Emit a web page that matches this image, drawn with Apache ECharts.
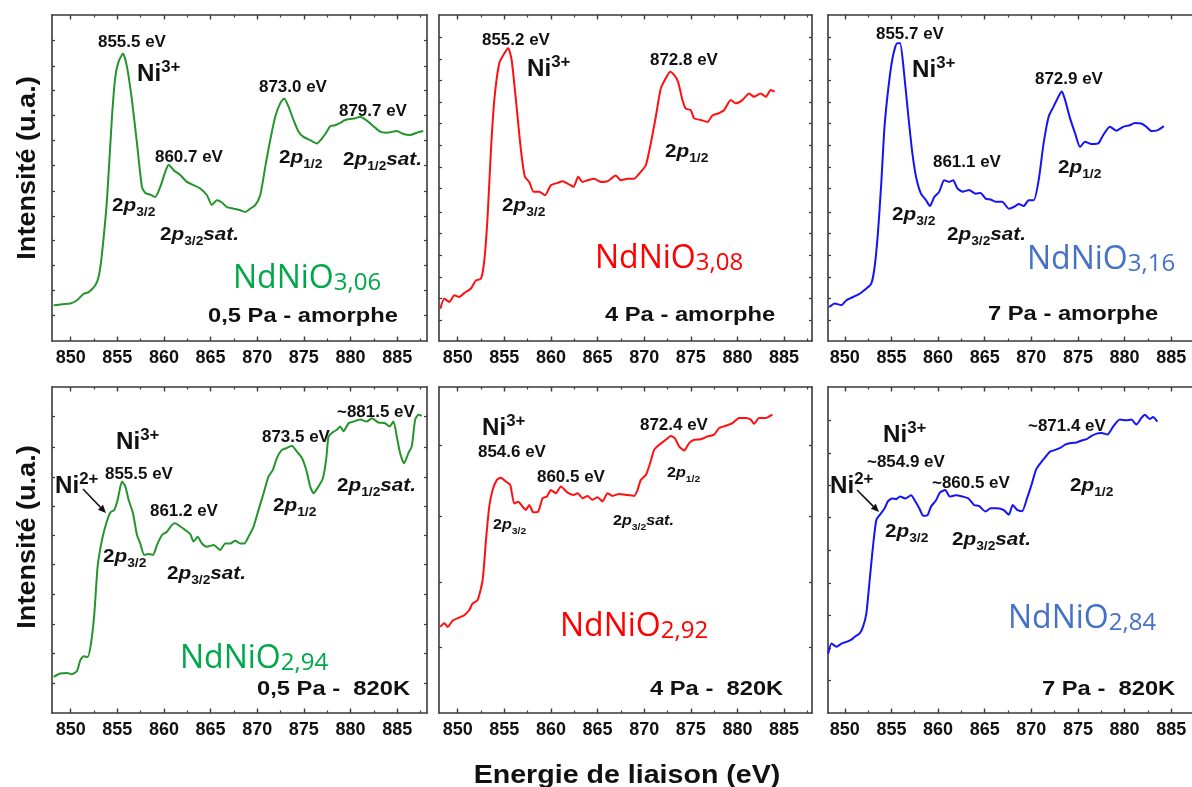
<!DOCTYPE html>
<html><head><meta charset="utf-8">
<script src="https://cdn.jsdelivr.net/npm/echarts@6/dist/echarts.min.js"></script>
<style>html,body{margin:0;padding:0;background:#fff}#c{width:1192px;height:787px}</style>
</head><body><div id="c"></div>
<script>
// ---------- data (intensity in % of panel height) ----------
const xTicks = [850, 855, 860, 865, 870, 875, 880, 885];
const xMinorTicks = [852.5, 857.5, 862.5, 867.5, 872.5, 877.5, 882.5, 887.5];

const e1 = [848.18,849.07,849.96,850.68,851.39,851.93,852.64,853.0,853.36,853.89,854.43,854.79,855.14,855.61,856.04,856.57,857.11,857.64,858.0,858.54,859.07,859.61,860.14,860.5,861.04,861.75,862.46,863.18,863.89,864.61,865.14,865.68,866.21,866.75,867.46,868.18,868.71,869.25,869.79,870.32,870.86,871.39,871.93,872.46,872.89,873.36,873.89,874.43,874.96,875.68,876.39,876.93,877.46,877.82,878.36,878.89,879.43,879.96,880.5,881.04,881.75,882.46,883.18,883.89,884.96,885.68,886.39,887.11,887.8];
const i1 = [10.95,11.3,11.5,12.5,14.5,15.0,17.1,19.7,26.8,43.2,68.8,81.1,85.7,88.2,84.1,73.9,60.6,47.3,45.4,44.9,44.2,47.3,51.9,54.1,52.4,50.9,48.8,47.8,46.8,44.7,41.7,43.2,42.5,41.1,40.6,40.1,39.6,40.6,41.7,44.7,53.4,61.6,68.8,72.9,74.4,71.9,67.8,64.2,62.6,61.6,60.6,62.1,64.2,65.9,66.2,66.9,67.8,68.1,68.3,68.8,67.6,65.9,64.2,63.9,64.4,63.5,63.2,63.9,64.4];

const e2 = [848.14,848.57,849.11,849.64,850.18,850.71,851.43,851.96,852.5,852.86,853.21,853.57,853.93,854.46,855.0,855.43,855.79,856.25,856.79,857.21,857.68,858.14,858.75,859.36,860.0,860.71,861.25,861.79,862.43,862.93,863.39,863.93,864.64,865.36,866.07,866.96,867.5,868.21,868.93,869.64,870.18,870.71,871.25,871.79,872.32,872.79,873.21,873.64,874.11,874.46,875.0,875.36,876.07,876.79,877.32,877.86,878.57,879.29,879.82,880.54,881.25,881.79,882.5,883.04,883.57,884.0];
const i2 = [9.9,13.0,12.0,14.0,13.5,14.7,16.1,18.6,19.1,24.7,38.1,58.5,73.9,85.2,88.2,89.8,86.2,73.9,58.5,50.4,48.8,45.8,45.8,44.7,47.8,48.5,49.0,48.3,47.3,50.4,48.8,49.3,49.8,48.8,49.0,50.8,49.3,49.8,49.8,51.9,53.9,60.6,68.8,77.5,80.6,82.6,81.6,79.5,73.9,71.3,70.8,68.3,67.8,67.2,69.2,69.7,70.8,73.9,72.9,73.9,75.9,74.9,75.9,74.9,77.0,76.5];

const e3 = [848.33,848.93,849.64,850.18,850.89,851.6,852.31,852.84,853.2,853.55,853.91,854.26,854.73,855.15,855.61,855.93,856.29,856.75,857.21,857.64,858.17,858.71,859.13,859.6,860.13,860.66,861.19,861.62,862.08,862.62,863.33,864.04,864.57,865.1,865.64,866.17,866.88,867.59,868.12,868.66,869.19,869.72,870.26,870.79,871.32,871.86,872.39,872.92,873.28,873.63,874.16,874.7,875.23,875.76,876.47,877.19,877.72,878.43,879.14,879.85,880.56,881.09,881.8,882.34,882.87,883.58,884.22];
const i3 = [10.4,11.5,11.0,12.5,13.5,14.5,16.1,17.6,22.7,33.0,48.3,65.7,79.0,87.2,91.3,91.3,84.1,70.8,58.5,50.4,45.2,43.2,41.4,44.2,45.8,49.3,48.8,49.3,46.8,45.8,46.3,45.2,45.4,43.7,43.4,42.7,42.7,40.6,41.1,42.0,41.4,43.2,43.2,49.3,60.6,68.8,71.9,75.0,76.5,73.9,68.3,63.7,59.5,61.1,60.4,60.6,63.2,65.7,64.5,65.7,66.2,66.9,66.7,65.7,64.4,64.7,65.9];

const e4 = [848.18,848.89,849.61,850.14,850.68,851.04,851.39,851.82,852.18,852.54,852.89,853.36,853.82,854.25,854.68,855.04,855.5,855.86,856.21,856.68,857.11,857.46,857.89,858.36,858.82,859.25,859.79,860.32,860.86,861.21,861.75,862.29,862.82,863.18,863.61,864.07,864.61,865.32,866.04,866.57,867.11,867.64,868.18,868.61,869.07,869.61,870.14,870.68,871.21,871.68,872.11,872.64,873.18,873.71,874.25,874.79,875.25,875.68,876.04,876.57,877.04,877.39,877.64,878.0,878.54,878.89,879.25,879.79,880.32,881.04,881.75,882.29,883.0,883.71,884.18,884.61,884.96,885.32,885.75,886.21,886.57,886.93,887.29,887.64];
const i4 = [11.1,12.1,12.3,11.9,12.9,16.2,17.4,17.2,21.3,30.5,44.9,53.1,58.2,61.5,62.3,65.4,71.0,69.5,65.4,61.3,54.6,52.0,48.5,48.8,48.5,51.5,54.6,55.6,57.7,58.2,57.2,56.1,54.9,52.6,54.1,52.0,51.0,51.5,50.0,52.0,52.0,52.8,52.0,52.0,54.1,57.2,62.3,67.4,72.5,74.6,78.2,80.7,81.3,82.0,80.2,78.2,74.6,69.5,67.4,69.5,72.0,77.7,84.8,85.9,86.9,87.9,86.4,88.9,89.4,90.0,89.4,90.4,89.1,88.9,87.9,89.4,84.8,79.7,76.6,79.7,81.8,90.0,91.5,91.2];

const e5 = [848.14,848.57,848.93,849.46,850.18,850.71,851.25,851.61,852.14,852.68,853.04,853.39,853.75,854.21,854.64,855.18,855.64,856.07,856.5,856.96,857.32,857.68,858.11,858.64,859.11,859.57,860.0,860.54,861.07,861.79,862.43,862.86,863.39,863.93,864.46,865.0,865.54,866.07,866.61,867.32,868.04,868.93,869.29,869.64,870.18,870.64,871.07,871.61,872.32,872.86,873.29,873.75,874.29,874.82,875.36,876.07,876.79,877.5,878.04,878.75,879.46,880.18,880.89,881.43,881.79,882.32,883.04,883.75];
const i5 = [26.4,27.5,26.4,28.3,29.3,30.0,31.6,33.6,34.6,40.8,53.1,63.3,68.4,71.5,72.2,71.0,70.0,64.3,64.8,63.3,62.3,63.8,61.6,61.8,65.9,66.4,68.4,67.4,69.5,67.6,66.9,67.4,65.9,66.6,65.4,66.2,64.9,67.4,66.6,67.2,66.9,66.6,68.4,71.5,73.0,76.6,80.7,82.3,83.8,85.0,84.3,81.8,80.5,82.8,83.8,84.0,84.8,85.4,87.4,88.1,88.9,90.5,90.5,90.0,88.7,90.5,90.5,91.5];

const e6 = [848.22,848.58,849.11,849.64,850.18,850.71,851.07,851.6,851.95,852.31,852.67,853.02,853.38,853.73,854.26,854.62,855.08,855.51,855.93,856.5,857.1,857.57,857.99,858.42,858.88,859.24,859.77,860.2,860.77,861.27,861.9,862.62,863.26,863.86,864.39,865.1,865.64,866.35,867.06,867.59,868.02,868.48,869.01,869.55,870.08,870.5,870.97,871.5,872.03,872.57,873.1,873.63,874.27,874.87,875.41,875.94,876.47,877.01,877.54,878.18,878.79,879.5,880.21,880.74,881.27,881.81,882.17,882.7,883.06,883.51];
const i6 = [18.2,21.3,20.3,21.3,21.8,22.5,23.4,24.4,26.4,30.5,40.8,51.0,59.2,60.7,62.7,64.9,65.8,65.6,66.4,65.8,66.8,64.9,62.8,60.5,60.7,63.3,65.2,67.6,68.4,66.4,66.8,66.4,65.8,63.8,63.5,61.8,62.8,62.8,62.2,60.8,63.8,62.3,61.9,65.9,70.5,74.6,76.6,78.5,80.2,80.7,81.3,82.3,82.8,83.0,83.6,84.0,85.0,85.7,85.9,85.4,87.9,90.0,89.8,90.0,88.5,90.5,91.5,90.2,90.8,89.4];

// y-axis tick positions (arbitrary units) seen on the frames
const yTicks1 = [8.0,15.6,23.3,31.0,38.3,46.0,54.0,61.7,69.3,77.0,84.4,92.3];
const yTicks2 = [6.4,13.2,19.6,26.4,33.1,39.6,46.9,53.4,60.1,66.9,73.3,80.1,86.5,93.3];
const yTicks4 = [9.2,18.4,27.3,36.5,45.7,54.6,63.5,72.4,81.6,91.1];
const yTicks5 = [20.2,40.2,60.4,82.2];
const yTicks6 = [10.1,19.9,30.1,39.9,49.9,60.1,69.9,79.8,89.9];

// ---------- styling / layout ----------
const GREEN = '#23952b', RED = '#ff1010', BLUE = '#1414f5';
const GREEN_T = '#00a84a', RED_T = '#ff0000', BLUE_T = '#4472c4';
const F = "'Liberation Sans', Arial, Helvetica, sans-serif";
const AX = '#3a3a3a';

const panels = [
  {e:e1, v:i1, c:GREEN, yt:yTicks1, box:[52,15,375,326],  xr:[848.0,888.2]},
  {e:e2, v:i2, c:RED,   yt:yTicks2, box:[439,15,373,326], xr:[848.0,888.0]},
  {e:e3, v:i3, c:BLUE,  yt:yTicks2, box:[828,15,373,326], xr:[848.2,888.2]},
  {e:e4, v:i4, c:GREEN, yt:yTicks4, box:[52,387,375,326], xr:[848.0,888.2]},
  {e:e5, v:i5, c:RED,   yt:yTicks5, box:[439,387,373,326],xr:[848.0,888.0]},
  {e:e6, v:i6, c:BLUE,  yt:yTicks6, box:[828,387,373,326],xr:[848.2,888.2]}
];

const grid = [], xAxis = [], yAxis = [], series = [];
panels.forEach((p, k) => {
  grid.push({left:p.box[0], top:p.box[1], width:p.box[2], height:p.box[3], containLabel:false, outerBoundsMode:'none'});
  const base = {gridIndex:k, type:'value', min:p.xr[0], max:p.xr[1], splitLine:{show:false}};
  xAxis.push(Object.assign({}, base, {position:'bottom',
    axisLine:{show:true,onZero:false,lineStyle:{color:AX,width:1.6}},
    axisTick:{show:true,inside:true,length:4.5,customValues:xTicks,lineStyle:{color:AX,width:1.4}},
    axisLabel:{show:true,customValues:xTicks,margin:8,color:'#111',fontFamily:F,fontSize:18,fontWeight:'bold'}}));
  xAxis.push(Object.assign({}, base, {position:'bottom',
    axisLine:{show:false,onZero:false},
    axisTick:{show:true,inside:true,length:2.5,customValues:xMinorTicks,lineStyle:{color:AX,width:1.2}},
    axisLabel:{show:false}}));
  xAxis.push(Object.assign({}, base, {position:'top',
    axisLine:{show:true,onZero:false,lineStyle:{color:AX,width:1.6}},
    axisTick:{show:true,inside:true,length:4.5,customValues:xTicks,lineStyle:{color:AX,width:1.4}},
    axisLabel:{show:false}}));
  xAxis.push(Object.assign({}, base, {position:'top',
    axisLine:{show:false,onZero:false},
    axisTick:{show:true,inside:true,length:2.5,customValues:xMinorTicks,lineStyle:{color:AX,width:1.2}},
    axisLabel:{show:false}}));
  ['left','right'].forEach(pos => {
    yAxis.push({gridIndex:k, type:'value', min:0, max:100, position:pos, splitLine:{show:false},
      axisLine:{show:true,onZero:false,lineStyle:{color:AX,width:1.6}},
      axisTick:{show:true,inside:true,length:3,customValues:p.yt,lineStyle:{color:AX,width:1.2}},
      axisLabel:{show:false}});
  });
  series.push({type:'line', xAxisIndex:4*k, yAxisIndex:2*k, data:p.e.map((x,j)=>[x,p.v[j]]),
    showSymbol:false, symbol:'none', smooth:0.2, silent:true,
    lineStyle:{color:p.c, width:2}});
});

// ---------- annotations ----------
const G = [];
function plain(x, y, s, size, sx) {
  G.push({type:'text', x:x, y:y+1, scaleX:sx, z:100,
    style:{text:s, fontFamily:F, fontSize:size, fontWeight:'bold', fill:'#111', align:'left', verticalAlign:'middle'}});
}
function orb(x, y, sub, tail, big, small) {
  const txt = '{n|2}{p|p}{s|' + sub + '}' + (tail ? '{p|' + tail + '}' : '');
  G.push({type:'text', x:x, y:y+1, scaleX:1.15, z:100,
    style:{text:txt, align:'left', verticalAlign:'middle', fill:'#111',
      rich:{
        n:{fontFamily:F, fontSize:big, fontWeight:'bold', fill:'#111', lineHeight:big+4, verticalAlign:'top'},
        p:{fontFamily:F, fontSize:big, fontWeight:'bold', fontStyle:'italic', fill:'#111', lineHeight:big+4, verticalAlign:'top'},
        s:{fontFamily:F, fontSize:small, fontWeight:'bold', fill:'#111', lineHeight:Math.round(small*0.5), verticalAlign:'bottom'}
      }}});
}
function ni(x, y, sup) {
  G.push({type:'text', x:x, y:y+1, scaleX:1.05, z:100,
    style:{text:'{m|Ni}{u|' + sup + '}', align:'left', verticalAlign:'middle', fill:'#111',
      rich:{
        m:{fontFamily:F, fontSize:23, fontWeight:'bold', fill:'#111', lineHeight:27, verticalAlign:'bottom'},
        u:{fontFamily:F, fontSize:16, fontWeight:'bold', fill:'#111', lineHeight:12, verticalAlign:'top'}
      }}});
}
function nd(x, y, sub, color) {
  G.push({type:'text', x:x, y:y+2, z:100,
    style:{text:'{a|NdNiO}{b|' + sub + '}', align:'left', verticalAlign:'middle', fill:color,
      rich:{
        a:{fontFamily:"'Open Sans', 'Noto Sans', sans-serif", fontSize:32, fill:color, lineHeight:36, verticalAlign:'bottom'},
        b:{fontFamily:"'Open Sans', 'Noto Sans', sans-serif", fontSize:24, fill:color, lineHeight:31, verticalAlign:'bottom'}
      }}});
}
function arrow(x1, y1, x2, y2) {
  const dx = x2 - x1, dy = y2 - y1, L = Math.hypot(dx, dy), ux = dx / L, uy = dy / L;
  const bx = x2 - ux * 8, by = y2 - uy * 8;
  G.push({type:'line', z:100, shape:{x1:x1, y1:y1, x2:bx, y2:by}, style:{stroke:'#111', lineWidth:1.6}});
  G.push({type:'polygon', z:100, shape:{points:[[x2,y2],[bx - uy*3.5, by + ux*3.5],[bx + uy*3.5, by - ux*3.5]]}, style:{fill:'#111'}});
}

// peak energies
[[98,42,'855.5 eV'],[155,157,'860.7 eV'],[259,87,'873.0 eV'],[339,111,'879.7 eV'],
 [482,40,'855.2 eV'],[650,60,'872.8 eV'],
 [876,34,'855.7 eV'],[933,162,'861.1 eV'],[1035,79,'872.9 eV'],
 [105,474,'855.5 eV'],[150,511,'861.2 eV'],[262,437,'873.5 eV'],[337,412,'~881.5 eV'],
 [478,452,'854.6 eV'],[537,477,'860.5 eV'],[640,425,'872.4 eV'],
 [867,462,'~854.9 eV'],[932,483,'~860.5 eV'],[1028,426,'~871.4 eV']
].forEach(a => plain(a[0], a[1], a[2], 16, 1.06));

// Ni labels
[[137,72,'3+'],[527,67,'3+'],[912,68,'3+'],[116,440,'3+'],[482,426,'3+'],[883,433,'3+'],
 [55,484,'2+'],[830,484,'2+']].forEach(a => ni(a[0], a[1], a[2]));

// orbital labels
[[112,207,'3/2',''],[160,236,'3/2','sat.'],[279,159,'1/2',''],[343,161,'1/2','sat.'],
 [502,207,'3/2',''],[665,153,'1/2',''],
 [892,216,'3/2',''],[947,236,'3/2','sat.'],[1058,169,'1/2',''],
 [103,558,'3/2',''],[167,575,'3/2','sat.'],[273,507,'1/2',''],[337,487,'1/2','sat.'],
 [885,533,'3/2',''],[952,541,'3/2','sat.'],[1070,487,'1/2','']
].forEach(a => orb(a[0], a[1], a[2], a[3], 18, 12));
[[493,526,'3/2',''],[613,522,'3/2','sat.'],[667,474,'1/2','']].forEach(a => orb(a[0], a[1], a[2], a[3], 14, 9));

// compositions
nd(233,275,'3,06',GREEN_T); nd(595,255,'3,08',RED_T); nd(1027,256,'3,16',BLUE_T);
nd(180,655,'2,94',GREEN_T); nd(560,623,'2,92',RED_T); nd(1008,615,'2,84',BLUE_T);

// conditions
[[208,315,'0,5 Pa - amorphe'],[605,314,'4 Pa - amorphe'],[988,313,'7 Pa - amorphe'],
 [257,688,'0,5 Pa -  820K'],[650,688,'4 Pa -  820K'],[1042,688,'7 Pa -  820K']
].forEach(a => plain(a[0], a[1], a[2], 21, 1.13));

arrow(83, 489, 106, 513);
arrow(857, 490, 879, 512);

// axis titles
[168, 537].forEach(cy => G.push({type:'text', x:28, y:cy, rotation:Math.PI/2, scaleX:1.04, z:100,
  style:{text:'Intensité (u.a.)', fontFamily:F, fontSize:26, fontWeight:'bold', fill:'#111', align:'center', verticalAlign:'middle'}}));
G.push({type:'text', x:627, y:776, scaleX:1.1, z:100,
  style:{text:'Energie de liaison (eV)', fontFamily:F, fontSize:26, fontWeight:'bold', fill:'#111', align:'center', verticalAlign:'middle'}});

const chart = echarts.init(document.getElementById('c'), null, {renderer:'canvas'});
chart.setOption({animation:false, backgroundColor:'#fff', grid, xAxis, yAxis, series, graphic:G});
</script></body></html>
